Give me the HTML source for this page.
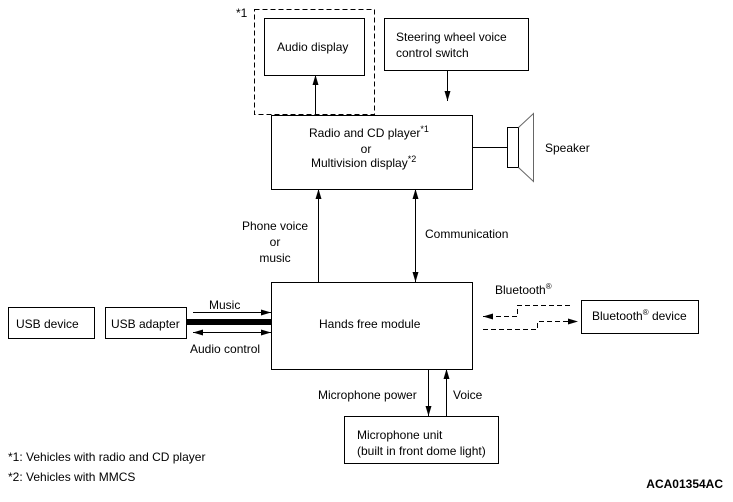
<!DOCTYPE html>
<html><head><style>
body{margin:0;background:#fff;}
text{font-family:"Liberation Sans",sans-serif;font-size:12px;fill:#000;}
</style></head><body>
<svg width="733" height="497" viewBox="0 0 733 497" xmlns="http://www.w3.org/2000/svg">
<defs>
<marker id="a" markerWidth="10" markerHeight="8" refX="10" refY="4" orient="auto" markerUnits="userSpaceOnUse"><path d="M0,1 L10,4 L0,7 Z" fill="#000"/></marker>
<marker id="b" markerWidth="10" markerHeight="8" refX="0" refY="4" orient="auto" markerUnits="userSpaceOnUse"><path d="M10,1 L0,4 L10,7 Z" fill="#000"/></marker>
</defs>
<g fill="none" stroke="#000" stroke-width="1">
<rect x="254.5" y="9.5" width="120" height="105" stroke-dasharray="5,3"/>
<rect x="264.5" y="18.5" width="100" height="57"/>
<rect x="384.5" y="18.5" width="144" height="52"/>
<rect x="271.5" y="115.5" width="201" height="74"/>
<rect x="271.5" y="282.5" width="201" height="87"/>
<rect x="8.5" y="307.5" width="86" height="31"/>
<rect x="105.5" y="307.5" width="81" height="31"/>
<rect x="581.5" y="300.5" width="117" height="33"/>
<rect x="344.5" y="416.5" width="154" height="47"/>
<line x1="315.5" y1="115" x2="315.5" y2="75" marker-end="url(#a)"/>
<line x1="447.5" y1="71" x2="447.5" y2="101" marker-end="url(#a)"/>
<line x1="318.5" y1="282" x2="318.5" y2="189" marker-end="url(#a)"/>
<line x1="415.5" y1="189" x2="415.5" y2="282" marker-start="url(#b)" marker-end="url(#a)"/>
<line x1="428.5" y1="369" x2="428.5" y2="416" marker-end="url(#a)"/>
<line x1="446.5" y1="416" x2="446.5" y2="369" marker-end="url(#a)"/>
<line x1="472" y1="147.5" x2="507" y2="147.5"/>
<rect x="507.5" y="127.5" width="11" height="40"/>
<path d="M518.5,127.5 L533.5,113.5 L533.5,181.5 L518.5,167.5" stroke="#666"/>
<line x1="186" y1="322" x2="271" y2="322" stroke-width="6"/>
<line x1="193" y1="312.5" x2="271" y2="312.5" marker-end="url(#a)"/>
<line x1="193" y1="332.5" x2="271" y2="332.5" marker-start="url(#b)" marker-end="url(#a)"/>
<path d="M570,305.5 H517.5 V316.5 H483" stroke-dasharray="5,3" marker-end="url(#a)"/>
<path d="M483,329.5 H537.5 V321.5 H578" stroke-dasharray="5,3" marker-end="url(#a)"/>
</g>
<text x="236" y="17">*1</text>
<text x="277" y="51">Audio display</text>
<text x="396" y="41">Steering wheel voice</text>
<text x="396" y="57">control switch</text>
<text x="309" y="137">Radio and CD player<tspan font-size="9" dy="-5">*1</tspan></text>
<text x="366" y="153" text-anchor="middle">or</text>
<text x="311" y="167">Multivision display<tspan font-size="9" dy="-5">*2</tspan></text>
<text x="545" y="152">Speaker</text>
<text x="275" y="230" text-anchor="middle">Phone voice</text>
<text x="275" y="246" text-anchor="middle">or</text>
<text x="275" y="262" text-anchor="middle">music</text>
<text x="425" y="238">Communication</text>
<text x="319" y="328">Hands free module</text>
<text x="16" y="328">USB device</text>
<text x="111" y="328">USB adapter</text>
<text x="209" y="309">Music</text>
<text x="190" y="353">Audio control</text>
<text x="495" y="294" fill="#333">Bluetooth<tspan font-size="8" dy="-5">®</tspan></text>
<text x="592" y="320">Bluetooth<tspan font-size="8" dy="-5">®</tspan><tspan dy="5"> device</tspan></text>
<text x="318" y="399">Microphone power</text>
<text x="453" y="399">Voice</text>
<text x="357" y="439">Microphone unit</text>
<text x="357" y="455">(built in front dome light)</text>
<text x="8" y="461">*1: Vehicles with radio and CD player</text>
<text x="8" y="481">*2: Vehicles with MMCS</text>
<text x="723" y="488" font-size="8" font-weight="bold" text-anchor="end">ACA01354AC</text>
</svg>
</body></html>
